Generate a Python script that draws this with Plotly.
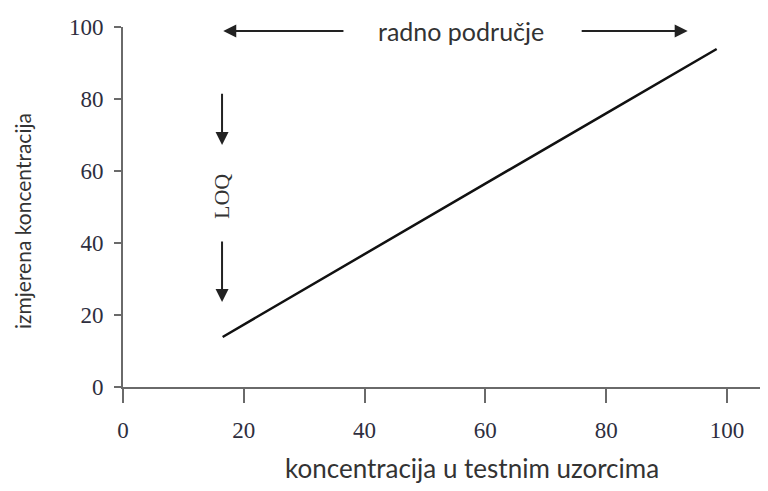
import plotly.graph_objects as go

# data
x_conc = [16.5, 40, 60, 80, 98.3]
y_meas = [13.9, 37.0, 56.5, 76.0, 93.9]
x_ticks = [0, 20, 40, 60, 80, 100]
y_ticks = [0, 20, 40, 60, 80, 100]
x_title = "koncentracija u testnim uzorcima"
y_title = "izmjerena koncentracija"
range_label = "radno područje"
loq_label = "LOQ"

fig = go.Figure()
fig.add_trace(go.Scatter(x=x_conc, y=y_meas, mode="lines",
                         line=dict(color="#111111", width=2.5), showlegend=False,
                         hoverinfo="skip"))

tickfont = dict(family="Liberation Serif", size=23, color="#2e2e3e")
axcol = "#6a6a6a"
fig.update_xaxes(range=[0, 106.8], tickvals=x_ticks, ticks="outside", ticklen=14,
                 tickwidth=2, tickcolor=axcol, showline=True, linecolor=axcol,
                 linewidth=2, showgrid=False, zeroline=False, tickfont=tickfont,
                 ticklabelstandoff=7)
fig.update_yaxes(range=[0, 100], tickvals=y_ticks, ticks="outside", ticklen=7,
                 tickwidth=2, tickcolor=axcol, showline=True, linecolor=axcol,
                 linewidth=2, showgrid=False, zeroline=False, tickfont=tickfont,
                 ticklabelstandoff=6)

textfont = dict(family="Lato", size=26, color="#333333")
ann = [
    dict(text=y_title, xref="paper", yref="paper", x=-0.1566, y=0.461,
         textangle=-90, showarrow=False, font=dict(family="Lato", size=21, color="#333333"),
         xanchor="center", yanchor="middle"),
    dict(text=x_title, xref="paper", yref="paper", x=0.541, y=-0.225,
         showarrow=False, font=textfont, xanchor="center", yanchor="middle"),
    dict(text=range_label, xref="x", yref="y", x=56.0, y=98.9, showarrow=False,
         font=dict(family="Lato", size=25, color="#333333"), xanchor="center", yanchor="middle"),
    dict(text=loq_label, xref="x", yref="y", x=16.4, y=52.8, showarrow=False,
         textangle=-90, font=dict(family="Liberation Serif", size=22, color="#333333"),
         xanchor="center", yanchor="middle"),
]
arrows = [
    (16.6, 98.9, 36.75, 98.9),
    (93.5, 98.9, 75.7, 98.9),
    (16.4, 67.2, 16.4, 81.9),
    (16.4, 23.6, 16.4, 40.8),
]
for hx, hy, tx, ty in arrows:
    ann.append(dict(text="", x=hx, y=hy, ax=tx, ay=ty, xref="x", yref="y",
                    axref="x", ayref="y", showarrow=True, arrowhead=2,
                    arrowsize=1.3, arrowwidth=2, arrowcolor="#222222", standoff=0))

fig.update_layout(width=760, height=483, margin=dict(l=115, r=0, t=19, b=104),
                  plot_bgcolor="white", paper_bgcolor="white", annotations=ann)

fig.write_html("out.html")
